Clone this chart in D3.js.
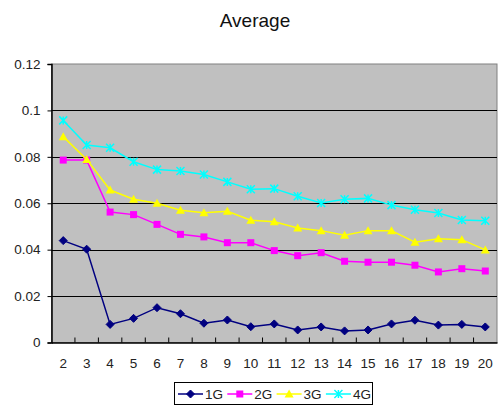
<!DOCTYPE html>
<html><head><meta charset="utf-8">
<script src="https://cdn.jsdelivr.net/npm/d3@7"></script>
<style>body{margin:0;background:#fff}svg{display:block;font-family:"Liberation Sans",Arial,sans-serif}</style>
</head><body>
<svg id="c" width="499" height="406"></svg>
<script>
const categories = ["2","3","4","5","6","7","8","9","10","11","12","13","14","15","16","17","18","19","20"];
const yTicks = [0, 0.02, 0.04, 0.06, 0.08, 0.1, 0.12];
const yTickLabels = ["0","0.02","0.04","0.06","0.08","0.1","0.12"];
const seriesNames = ["1G","2G","3G","4G"];
const s1G = [0.0439,0.0402,0.0078,0.0104,0.0150,0.0124,0.0083,0.0097,0.0068,0.0080,0.0054,0.0067,0.0050,0.0054,0.0080,0.0096,0.0075,0.0078,0.0067];
const s2G = [0.0786,0.0786,0.0562,0.0551,0.0509,0.0466,0.0455,0.0430,0.0430,0.0396,0.0374,0.0387,0.0350,0.0346,0.0346,0.0333,0.0304,0.0318,0.0308];
const s3G = [0.0887,0.0789,0.0657,0.0617,0.0600,0.0570,0.0559,0.0565,0.0527,0.0520,0.0493,0.0482,0.0462,0.0482,0.0482,0.0432,0.0447,0.0443,0.0399];
const s4G = [0.0957,0.0851,0.0839,0.0779,0.0745,0.0739,0.0724,0.0692,0.0660,0.0663,0.0630,0.0601,0.0617,0.0621,0.0592,0.0572,0.0558,0.0528,0.0525];
const seriesValues = [s1G, s2G, s3G, s4G];
const colors = ["#000080","#FF00FF","#FFFF00","#00FFFF"];
const markers = ["diamond","square","triangle","cross"];

const svg = d3.select("#c");
const L = 51.5, R = 497, T = 64, B = 342.5;
const x = d3.scaleBand().domain(categories).range([L, R]).padding(0);
const y = d3.scaleLinear().domain([0, 0.12]).range([B, T]);

svg.append("text").attr("x", 255).attr("y", 27).attr("text-anchor","middle")
  .attr("font-size", 19).attr("fill","#111").text("Average");

svg.append("rect").attr("x", L).attr("y", T).attr("width", R-L).attr("height", B-T)
  .attr("fill","#C0C0C0").attr("stroke","#808080").attr("stroke-width",1);

// gridlines
svg.append("g").selectAll("line").data(yTicks.filter(d => d > 0 && d < 0.12)).join("line")
  .attr("x1", L).attr("x2", R).attr("y1", d => Math.round(y(d))+0.5).attr("y2", d => Math.round(y(d))+0.5)
  .attr("stroke","#000").attr("stroke-width",1);

// y axis
const yAxis = d3.axisLeft(y).tickValues(yTicks).tickFormat((d,i) => yTickLabels[i]).tickSize(4).tickPadding(7);
const gy = svg.append("g").attr("transform", `translate(${L},0)`).call(yAxis);
gy.select(".domain").attr("stroke","#000").attr("stroke-width",1.5);
gy.selectAll(".tick line").attr("stroke","#000");
gy.selectAll("text").attr("font-size", 13.5).attr("fill","#222").attr("font-family",'"Liberation Sans",Arial,sans-serif');

// x axis
const xAxis = d3.axisBottom(x).tickSize(0).tickPadding(16);
const gx = svg.append("g").attr("transform", `translate(0,${B})`).call(xAxis);
gx.select(".domain").attr("stroke","#000").attr("stroke-width",1.5);
gx.selectAll("text").attr("font-size", 13.5).attr("fill","#222").attr("font-family",'"Liberation Sans",Arial,sans-serif');
// category boundary ticks pointing inward
svg.append("g").selectAll("line").data(categories.slice(1)).join("line")
  .attr("x1", d => x(d)).attr("x2", d => x(d)).attr("y1", B).attr("y2", B-5)
  .attr("stroke","#000").attr("stroke-width",1);

function marker(g, type, color, cx, cy) {
  if (type === "diamond") {
    g.append("path").attr("d", `M${cx},${cy-4}L${cx+4},${cy}L${cx},${cy+4}L${cx-4},${cy}Z`).attr("fill", color).attr("stroke",color);
  } else if (type === "square") {
    g.append("rect").attr("x", cx-3.5).attr("y", cy-3.5).attr("width",7).attr("height",7).attr("fill",color);
  } else if (type === "triangle") {
    g.append("path").attr("d", `M${cx},${cy-4.5}L${cx+4.5},${cy+3.5}L${cx-4.5},${cy+3.5}Z`).attr("fill", color);
  } else {
    g.append("path").attr("d", `M${cx-4},${cy-4}L${cx+4},${cy+4}M${cx-4},${cy+4}L${cx+4},${cy-4}M${cx},${cy-4}L${cx},${cy+4}`).attr("stroke", color).attr("stroke-width",1.5).attr("fill","none");
  }
}

const line = d3.line().x((d,i) => x(categories[i]) + x.bandwidth()/2).y(d => y(d));
seriesValues.forEach((vals, si) => {
  const g = svg.append("g");
  g.append("path").datum(vals).attr("d", line).attr("fill","none").attr("stroke", colors[si]).attr("stroke-width", 1.5);
  vals.forEach((v, i) => marker(g, markers[si], colors[si], x(categories[i]) + x.bandwidth()/2, y(v)));
});

// legend
const lg = svg.append("g");
lg.append("rect").attr("x", 174.5).attr("y", 382.5).attr("width", 198).attr("height", 22).attr("fill","#fff").attr("stroke","#000");
const lx = [178, 227.3, 276.6, 325.9];
seriesNames.forEach((n, i) => {
  const x0 = lx[i];
  lg.append("line").attr("x1", x0).attr("x2", x0+25).attr("y1", 394).attr("y2", 394).attr("stroke", colors[i]).attr("stroke-width",1.5);
  marker(lg, markers[i], colors[i], x0+12.5, 394);
  lg.append("text").attr("x", x0+27).attr("y", 399).attr("font-size", 13.5).attr("fill","#222").text(n);
});
</script>
</body></html>
